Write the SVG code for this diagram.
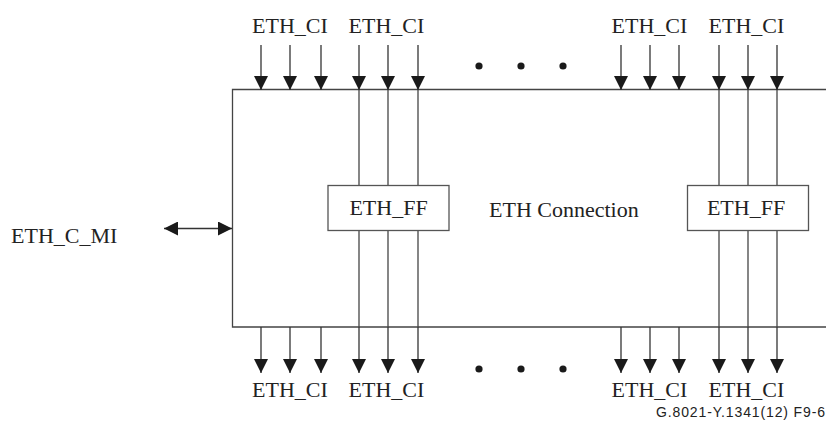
<svg xmlns="http://www.w3.org/2000/svg" width="826" height="426" viewBox="0 0 826 426">
<style>
.t{font-family:"Liberation Serif","Times New Roman",serif;font-size:22px;fill:#222}
.f{font-family:"Liberation Sans",Arial,sans-serif;font-size:14px;fill:#222}
.box{fill:#fff;stroke:#555;stroke-width:1.3}
.ln{stroke:#444;stroke-width:1.3;fill:none}
.ar{stroke:#333;stroke-width:1.3;fill:none;marker-end:url(#ah)}
</style>
<defs>
<marker id="ah" viewBox="0 0 14 14" refX="14" refY="7" markerWidth="14" markerHeight="14" markerUnits="userSpaceOnUse" orient="auto">
<path d="M0,0 L14,7 L0,14 Z" fill="#1a1a1a"/>
</marker>
<marker id="ahs" viewBox="0 0 14 14" refX="0" refY="7" markerWidth="14" markerHeight="14" markerUnits="userSpaceOnUse" orient="auto">
<path d="M14,0 L0,7 L14,14 Z" fill="#1a1a1a"/>
</marker>
</defs>
<g id="connection">
<path class="ln" d="M826,89.5 H232.5 V327 H826"/>
<text class="t" x="489" y="217">ETH Connection</text>
</g>
<g id="connectors">
<!-- top inputs -->
<line class="ar" x1="261" y1="45" x2="261" y2="90"/>
<line class="ar" x1="290" y1="45" x2="290" y2="90"/>
<line class="ar" x1="321" y1="45" x2="321" y2="90"/>
<line class="ar" x1="359" y1="45" x2="359" y2="90"/>
<line class="ar" x1="388" y1="45" x2="388" y2="90"/>
<line class="ar" x1="418" y1="45" x2="418" y2="90"/>
<line class="ar" x1="621" y1="45" x2="621" y2="90"/>
<line class="ar" x1="650" y1="45" x2="650" y2="90"/>
<line class="ar" x1="679" y1="45" x2="679" y2="90"/>
<line class="ar" x1="719" y1="45" x2="719" y2="90"/>
<line class="ar" x1="748" y1="45" x2="748" y2="90"/>
<line class="ar" x1="777" y1="45" x2="777" y2="90"/>
<!-- through lines -->
<line class="ln" x1="359" y1="90" x2="359" y2="327"/>
<line class="ln" x1="388" y1="90" x2="388" y2="327"/>
<line class="ln" x1="418" y1="90" x2="418" y2="327"/>
<line class="ln" x1="719" y1="90" x2="719" y2="327"/>
<line class="ln" x1="748" y1="90" x2="748" y2="327"/>
<line class="ln" x1="777" y1="90" x2="777" y2="327"/>
<!-- bottom outputs -->
<line class="ar" x1="261" y1="327" x2="261" y2="373"/>
<line class="ar" x1="290" y1="327" x2="290" y2="373"/>
<line class="ar" x1="321" y1="327" x2="321" y2="373"/>
<line class="ar" x1="359" y1="327" x2="359" y2="373"/>
<line class="ar" x1="388" y1="327" x2="388" y2="373"/>
<line class="ar" x1="418" y1="327" x2="418" y2="373"/>
<line class="ar" x1="621" y1="327" x2="621" y2="373"/>
<line class="ar" x1="650" y1="327" x2="650" y2="373"/>
<line class="ar" x1="679" y1="327" x2="679" y2="373"/>
<line class="ar" x1="719" y1="327" x2="719" y2="373"/>
<line class="ar" x1="748" y1="327" x2="748" y2="373"/>
<line class="ar" x1="777" y1="327" x2="777" y2="373"/>
<!-- management -->
<line class="ar" x1="164" y1="228.5" x2="232" y2="228.5" style="marker-start:url(#ahs)"/>
</g>
<g id="ff1">
<rect class="box" x="328" y="185.5" width="121" height="45"/>
<text class="t" x="388.5" y="215" text-anchor="middle">ETH_FF</text>
</g>
<g id="ff2">
<rect class="box" x="687.5" y="185.5" width="121" height="45"/>
<text class="t" x="746" y="215" text-anchor="middle">ETH_FF</text>
</g>
<g id="labels">
<text class="t" x="290" y="33" text-anchor="middle">ETH_CI</text>
<text class="t" x="386.5" y="33" text-anchor="middle">ETH_CI</text>
<text class="t" x="649.5" y="33" text-anchor="middle">ETH_CI</text>
<text class="t" x="746.5" y="33" text-anchor="middle">ETH_CI</text>
<text class="t" x="290" y="397" text-anchor="middle">ETH_CI</text>
<text class="t" x="386.5" y="397" text-anchor="middle">ETH_CI</text>
<text class="t" x="649.5" y="397" text-anchor="middle">ETH_CI</text>
<text class="t" x="746.5" y="397" text-anchor="middle">ETH_CI</text>
<text class="t" x="11" y="243">ETH_C_MI</text>
<text class="f" x="656" y="417" textLength="169" lengthAdjust="spacing">G.8021-Y.1341(12)  F9-6</text>
</g>
<g id="dots" fill="#1a1a1a">
<circle cx="479" cy="66" r="3.6"/>
<circle cx="521" cy="66" r="3.6"/>
<circle cx="563" cy="66" r="3.6"/>
<circle cx="479" cy="369" r="3.6"/>
<circle cx="521" cy="369" r="3.6"/>
<circle cx="563" cy="369" r="3.6"/>
</g>
</svg>
